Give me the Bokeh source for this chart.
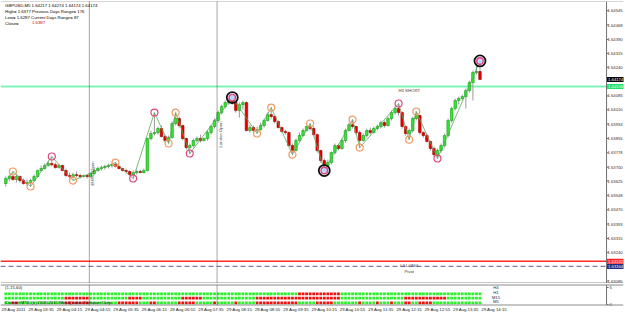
from bokeh.plotting import figure
from bokeh.layouts import column
from bokeh.models import Range1d, FixedTicker, Span, Label, PrintfTickFormatter
from bokeh.embed import file_html
from bokeh.resources import INLINE

# ---------------- data (GBPUSD M5, 29 Aug 2011) ----------------
opens = [1.63612, 1.63639, 1.63650, 1.63633, 1.63650, 1.63628, 1.63612, 1.63617, 1.63628, 1.63650,
         1.63682, 1.63693, 1.63709, 1.63720, 1.63714, 1.63698, 1.63709, 1.63682, 1.63655, 1.63650,
         1.63660, 1.63655, 1.63650, 1.63655, 1.63650, 1.63666, 1.63682, 1.63693, 1.63698, 1.63704,
         1.63709, 1.63714, 1.63704, 1.63693, 1.63682, 1.63677, 1.63660, 1.63671, 1.63677, 1.63671,
         1.63682, 1.63855, 1.63882, 1.63887, 1.63909, 1.63866, 1.63844, 1.63860, 1.63936, 1.63963,
         1.63925, 1.63855, 1.63806, 1.63817, 1.63844, 1.63855, 1.63844, 1.63855, 1.63887, 1.63920,
         1.63952, 1.63995, 1.64028, 1.64049, 1.64060, 1.64049, 1.64006, 1.64038, 1.64049, 1.63898,
         1.63914, 1.63898, 1.63903, 1.63925, 1.63952, 1.63984, 1.63974, 1.63947, 1.63914, 1.63893,
         1.63887, 1.63817, 1.63790, 1.63844, 1.63871, 1.63898, 1.63920, 1.63909, 1.63876, 1.63790,
         1.63736, 1.63709, 1.63725, 1.63779, 1.63817, 1.63801, 1.63844, 1.63898, 1.63930, 1.63920,
         1.63887, 1.63844, 1.63871, 1.63898, 1.63887, 1.63909, 1.63920, 1.63941, 1.63925, 1.63963,
         1.63995, 1.64017, 1.63995, 1.63920, 1.63882, 1.63898, 1.63963, 1.63979, 1.63887, 1.63871,
         1.63839, 1.63801, 1.63768, 1.63790, 1.63817, 1.63871, 1.63952, 1.64017, 1.64060, 1.64071,
         1.64082, 1.64114, 1.64157, 1.64211, 1.64217]
highs = [1.63650, 1.63660, 1.63677, 1.63660, 1.63655, 1.63639, 1.63633, 1.63639, 1.63660, 1.63687,
         1.63709, 1.63720, 1.63736, 1.63758, 1.63725, 1.63720, 1.63714, 1.63693, 1.63671, 1.63671,
         1.63677, 1.63666, 1.63660, 1.63660, 1.63671, 1.63693, 1.63704, 1.63709, 1.63714, 1.63720,
         1.63720, 1.63725, 1.63709, 1.63698, 1.63693, 1.63682, 1.63682, 1.63687, 1.63687, 1.63693,
         1.63860, 1.63898, 1.63995, 1.63920, 1.63925, 1.63876, 1.63871, 1.63947, 1.63995, 1.63974,
         1.63930, 1.63860, 1.63828, 1.63855, 1.63866, 1.63876, 1.63860, 1.63898, 1.63930, 1.63963,
         1.64006, 1.64038, 1.64060, 1.64071, 1.64076, 1.64060, 1.64049, 1.64060, 1.64055, 1.63930,
         1.63925, 1.63920, 1.63941, 1.63963, 1.63995, 1.64022, 1.63979, 1.63952, 1.63920, 1.63903,
         1.63893, 1.63828, 1.63855, 1.63887, 1.63909, 1.63925, 1.63936, 1.63920, 1.63882, 1.63795,
         1.63747, 1.63741, 1.63785, 1.63828, 1.63828, 1.63855, 1.63909, 1.63941, 1.63957, 1.63925,
         1.63898, 1.63882, 1.63909, 1.63914, 1.63920, 1.63930, 1.63952, 1.63952, 1.63974, 1.64006,
         1.64028, 1.64044, 1.64001, 1.63925, 1.63909, 1.63974, 1.64001, 1.63984, 1.63893, 1.63882,
         1.63844, 1.63812, 1.63801, 1.63828, 1.63882, 1.63963, 1.64028, 1.64071, 1.64082, 1.64092,
         1.64125, 1.64168, 1.64222, 1.64265, 1.64274]
lows = [1.63596, 1.63623, 1.63628, 1.63617, 1.63617, 1.63606, 1.63601, 1.63596, 1.63623, 1.63644,
        1.63677, 1.63687, 1.63704, 1.63704, 1.63693, 1.63693, 1.63677, 1.63650, 1.63639, 1.63628,
        1.63644, 1.63639, 1.63644, 1.63639, 1.63644, 1.63660, 1.63677, 1.63682, 1.63687, 1.63693,
        1.63698, 1.63698, 1.63687, 1.63677, 1.63666, 1.63655, 1.63639, 1.63660, 1.63671, 1.63666,
        1.63677, 1.63844, 1.63871, 1.63876, 1.63860, 1.63833, 1.63828, 1.63855, 1.63925, 1.63914,
        1.63844, 1.63795, 1.63774, 1.63806, 1.63833, 1.63833, 1.63839, 1.63844, 1.63876, 1.63909,
        1.63941, 1.63984, 1.64017, 1.64038, 1.64038, 1.63995, 1.63968, 1.64011, 1.63893, 1.63887,
        1.63893, 1.63882, 1.63898, 1.63914, 1.63947, 1.63963, 1.63936, 1.63909, 1.63887, 1.63876,
        1.63812, 1.63768, 1.63785, 1.63839, 1.63866, 1.63893, 1.63898, 1.63866, 1.63779, 1.63725,
        1.63682, 1.63698, 1.63714, 1.63768, 1.63790, 1.63795, 1.63833, 1.63893, 1.63909, 1.63876,
        1.63806, 1.63839, 1.63860, 1.63876, 1.63882, 1.63898, 1.63909, 1.63914, 1.63920, 1.63952,
        1.63984, 1.63979, 1.63909, 1.63871, 1.63849, 1.63887, 1.63952, 1.63876, 1.63860, 1.63833,
        1.63790, 1.63758, 1.63747, 1.63779, 1.63806, 1.63860, 1.63941, 1.64006, 1.64038, 1.64060,
        1.64017, 1.64103, 1.64060, 1.64200, 1.64174]
closes = [1.63639, 1.63650, 1.63633, 1.63650, 1.63628, 1.63612, 1.63617, 1.63628, 1.63650, 1.63682,
          1.63693, 1.63709, 1.63720, 1.63714, 1.63698, 1.63709, 1.63682, 1.63655, 1.63650, 1.63660,
          1.63655, 1.63650, 1.63655, 1.63650, 1.63666, 1.63682, 1.63693, 1.63698, 1.63704, 1.63709,
          1.63714, 1.63704, 1.63693, 1.63682, 1.63677, 1.63660, 1.63671, 1.63677, 1.63671, 1.63682,
          1.63855, 1.63882, 1.63887, 1.63909, 1.63866, 1.63844, 1.63860, 1.63936, 1.63963, 1.63925,
          1.63855, 1.63806, 1.63817, 1.63844, 1.63855, 1.63844, 1.63855, 1.63887, 1.63920, 1.63952,
          1.63995, 1.64028, 1.64049, 1.64060, 1.64049, 1.64006, 1.64038, 1.64049, 1.63898, 1.63914,
          1.63898, 1.63903, 1.63925, 1.63952, 1.63984, 1.63974, 1.63947, 1.63914, 1.63893, 1.63887,
          1.63817, 1.63790, 1.63844, 1.63871, 1.63898, 1.63920, 1.63909, 1.63876, 1.63790, 1.63736,
          1.63709, 1.63725, 1.63779, 1.63817, 1.63801, 1.63844, 1.63898, 1.63930, 1.63920, 1.63887,
          1.63844, 1.63871, 1.63898, 1.63887, 1.63909, 1.63920, 1.63941, 1.63925, 1.63963, 1.63995,
          1.64017, 1.63995, 1.63920, 1.63882, 1.63898, 1.63963, 1.63979, 1.63887, 1.63871, 1.63839,
          1.63801, 1.63768, 1.63790, 1.63817, 1.63871, 1.63952, 1.64017, 1.64060, 1.64071, 1.64082,
          1.64114, 1.64157, 1.64211, 1.64217, 1.64174]

# zigzag swing points: bar index, price, marker kind
zz_bars = [0, 2, 7, 13, 19, 31, 36, 42, 46, 48, 52, 64, 71, 75, 81, 86, 90, 98, 100, 111, 114, 116, 122, 134]
zz_prices = [1.63617, 1.63677, 1.63596, 1.63758, 1.63628, 1.63725, 1.63639, 1.63995, 1.63828, 1.63995,
             1.63774, 1.64076, 1.63882, 1.64022, 1.63768, 1.63936, 1.63682, 1.63957, 1.63806, 1.64044,
             1.63849, 1.64001, 1.63747, 1.64274]
zz_kind = ["none", "minor", "minor", "major", "minor", "minor", "major", "major", "minor", "minor",
           "major", "big", "minor", "minor", "minor", "minor", "big", "minor", "minor", "major",
           "minor", "minor", "major", "big"]

price_ticks = [1.64545, 1.64468, 1.64390, 1.64315, 1.64240, 1.64085, 1.64010, 1.63933, 1.63855,
               1.63778, 1.63700, 1.63625, 1.63548, 1.63470, 1.63393, 1.63315, 1.63240, 1.63085]
time_tick_bars = [-1.8, 6, 14, 22, 30, 38, 46, 54, 62, 70, 78, 86, 94, 102, 110, 118, 126, 134]
time_tick_labels = ["29 Aug 2011", "29 Aug 03:35", "29 Aug 04:15", "29 Aug 04:55", "29 Aug 05:35",
                    "29 Aug 06:15", "29 Aug 06:55", "29 Aug 07:35", "29 Aug 08:15", "29 Aug 08:55",
                    "29 Aug 09:35", "29 Aug 10:15", "29 Aug 10:55", "29 Aug 11:35", "29 Aug 12:15",
                    "29 Aug 12:55", "29 Aug 13:35", "29 Aug 14:15"]

h3_price = 1.64136
l3_price = 1.63192
pivot_price = 1.63164
last_price = 1.64174

session_bars = [23.6, 59.7]
session_names = ["EURO Open", "London Open"]

info_lines = ["GBPUSD,M5  1.64217 1.64274 1.64174 1.64174",
              "High= 1.6377     Previous Days Range= 176",
              "Low= 1.6287      Current Days Range= 87",
              "Close= "]
close_value = "1.6387"

# strength panel: one row per timeframe, G = up, R = down
row_states = [
    "GGGGGGGGGG" "GGGGGGGGGG" "GGGGGGGGGG" "GGGGGGGGGG" "GGGGGGGGGG" "GGGGGGGGGG" "GGGGGGGGGG"
    "GGGGGGGGGG" "GGGRRRRRRR" "RRRRRGGGGG" "GGGGGGGGGG" "GGGGGGGGGG" "GGGGGGGGGG" "GGGGG",
    "GGGGGGGGGG" "GGGGGGGRRR" "RRRRGGGGGG" "GGGGGRRRRG" "GGGGGGGGGG" "RRRRRRGGGG" "GGGGGGGGGG"
    "GRRRRRRRRR" "RRRRRRRRRR" "RRRRRGGGGG" "GGGGGGGGGG" "GGGRRRRRRR" "RRRRRGGGGG" "GGGGG",
    "GGRRGGGGGG" "GGGGGGGRRR" "RRRRGGGGGG" "GGRRRRRRGG" "GRRGGGGGGR" "RRRRGGGGGR" "GGGGGRGGGG"
    "GRRRRRRRRR" "RRRGGGGGRR" "RRRGGGGGGG" "RGGGGRGGGR" "GGGRRGGRRR" "RGGGGGGGGG" "GGGGG",
]
panel_labels = ["H4", "H1", "M15", "M5"]

# ---------------- styling / layout ----------------
FONT = "Liberation Sans"
FS = "4.3px"
AX_FS = "4.2px"
W = 625
PX_PER_BAR = 3.55
X0 = -1.5
X1 = X0 + W / PX_PER_BAR          # frame spans the full window width
AXIS_X = X0 + 608 / PX_PER_BAR    # price-scale line of the chart window
Y0, Y1 = 1.63072, 1.64595
FH = 282
AXC = "#707070"

def py(pix):
    """main-panel pixel row (from frame top) -> price"""
    return Y1 - pix * (Y1 - Y0) / FH

def lab(fig, x, y, text, color="#202020", align="left", baseline="top", angle=0, **kw):
    fig.add_layout(Label(x=x, y=y, text=text, text_font=FONT, text_font_size=FS,
                         text_color=color, text_align=align, text_baseline=baseline,
                         angle=angle, **kw))

p = figure(width=W, frame_height=FH, x_range=Range1d(X0, X1), y_range=Range1d(Y0, Y1),
           output_backend="svg", toolbar_location=None, x_axis_location=None,
           y_axis_location="right", min_border_left=0, min_border_top=1, min_border_bottom=0,
           min_border_right=0)
p.background_fill_color = "white"
p.border_fill_color = "white"
p.outline_line_color = None
p.grid.visible = False
ax = p.yaxis[0]
ax.ticker = FixedTicker(ticks=price_ticks)
ax.formatter = PrintfTickFormatter(format="%.5f")
ax.major_label_text_font = FONT
ax.major_label_text_font_size = AX_FS
ax.major_label_text_color = "#303030"
ax.major_label_standoff = -16
ax.major_tick_out = 0
ax.major_tick_in = 0
ax.minor_tick_line_color = None
ax.major_tick_line_color = None
ax.axis_line_color = None

# chart-window borders and price-scale line
p.add_layout(Span(location=AXIS_X, dimension="height", line_color=AXC, line_width=1))
p.add_layout(Span(location=Y0, dimension="width", line_color="#8c8c8c", line_width=2))
p.add_layout(Span(location=Y1, dimension="width", line_color="#b0b0b0", line_width=1))
p.segment([AXIS_X] * len(price_ticks), price_ticks, [AXIS_X + 0.6] * len(price_ticks), price_ticks,
          line_color=AXC, line_width=1)

# session lines
for sb in session_bars:
    p.add_layout(Span(location=sb, dimension="height", line_color="#505050",
                      line_dash="1 1", line_width=1))

# horizontal levels
p.segment([X0], [h3_price], [AXIS_X], [h3_price], line_color="#7DF3B6", line_width=2)
p.segment([X0], [l3_price], [AXIS_X], [l3_price], line_color="#FF2A2A", line_width=1.6)
p.segment([X0], [pivot_price], [AXIS_X], [pivot_price], line_color="#7A7AB4",
          line_dash="5 3", line_width=1.2)

# candles
bars = list(range(len(opens)))
up = [i for i in bars if closes[i] >= opens[i]]
dn = [i for i in bars if closes[i] < opens[i]]
p.segment(bars, highs, bars, lows, line_color="#9a9a9a", line_width=1)
p.vbar(x=up, width=0.72, top=[closes[i] for i in up], bottom=[opens[i] for i in up],
       fill_color="#33E833", line_color="#169a16", line_width=0.6)
p.vbar(x=dn, width=0.72, top=[opens[i] for i in dn], bottom=[closes[i] for i in dn],
       fill_color="#E80000", line_color="#A00000", line_width=0.6)

# zigzag
p.line(zz_bars, zz_prices, line_color="#5BAA5B", line_width=0.8)
for kind, col in (("minor", "#F29A62"), ("major", "#E2457E")):
    xs = [b for b, k in zip(zz_bars, zz_kind) if k == kind]
    ys = [v for v, k in zip(zz_prices, zz_kind) if k == kind]
    p.scatter(xs, ys, marker="circle", size=7, fill_color=None, line_color=col, line_width=1.2)
bx = [b for b, k in zip(zz_bars, zz_kind) if k == "big"]
byv = [v for v, k in zip(zz_prices, zz_kind) if k == "big"]
p.scatter(bx, byv, marker="circle", size=11, fill_color=None, line_color="#111111", line_width=1.8)
p.scatter(bx, byv, marker="circle", size=6.5, fill_color="#BFD3FF", line_color="#E0457E",
          line_width=1.4)

# texts
for k, line in enumerate(info_lines):
    lab(p, X0 + 1.3, py(1 + 6 * k), line, color="#000000")
lab(p, X0 + 1.3 + 7.6, py(19), close_value, color="#D00000")

lab(p, session_bars[0] + 0.3, py(172), session_names[0], color="#404040",
    align="center", baseline="top", angle=1.5708)
lab(p, session_bars[1] + 0.3, py(133), session_names[1], color="#404040",
    align="center", baseline="top", angle=1.5708)

lab(p, 114, py(86.5), "H3 SHORT", color="#404040", align="center")
lab(p, 114, py(261), "L3 LONG", color="#404040", align="center")
lab(p, 114, py(267), "Pivot", color="#404040", align="center")

# price boxes on the price scale
for price, bg, fg in ((last_price, "#000000", "#ffffff"), (h3_price, "#22E06A", "#E8FFF0"),
                      (l3_price, "#FF2020", "#ffffff"), (pivot_price, "#1C2C7C", "#ffffff")):
    p.add_layout(Label(x=AXIS_X, y=price, x_offset=0.5, text=f"{price:.5f}", text_font=FONT,
                       text_font_size=AX_FS, text_color=fg, text_align="left",
                       text_baseline="middle", background_fill_color=bg, padding=1))

# ---------------- lower indicator panel ----------------
LY0, LY1 = -0.3, 5.9
q = figure(width=W, frame_height=21, x_range=p.x_range, y_range=Range1d(LY0, LY1),
           output_backend="svg", toolbar_location=None, y_axis_location="right",
           min_border_left=0, min_border_top=1, min_border_bottom=0, min_border_right=0)
q.outline_line_color = None
q.grid.visible = False
qy = q.yaxis[0]
qy.ticker = FixedTicker(ticks=[0, 5])
qy.major_label_text_font = FONT
qy.major_label_text_font_size = AX_FS
qy.major_label_text_color = "#303030"
qy.major_label_standoff = -14
qy.major_tick_out = 0
qy.major_tick_in = 0
qy.major_tick_line_color = None
qy.minor_tick_line_color = None
qy.axis_line_color = None
qx = q.xaxis[0]
qx.ticker = FixedTicker(ticks=[b + 4 for b in time_tick_bars])
qx.major_label_overrides = {b + 4: t for b, t in zip(time_tick_bars, time_tick_labels)}
qx.major_label_text_font = FONT
qx.major_label_text_font_size = FS
qx.major_label_text_color = "#202020"
qx.major_label_standoff = 1
qx.major_tick_out = 0
qx.major_tick_in = 0
qx.major_tick_line_color = None
qx.minor_tick_line_color = None
qx.axis_line_color = None

q.add_layout(Span(location=AXIS_X, dimension="height", line_color=AXC, line_width=1))
q.add_layout(Span(location=LY1, dimension="width", line_color="#8c8c8c", line_width=2))
q.add_layout(Span(location=LY0, dimension="width", line_color="#8c8c8c", line_width=2))
q.segment([AXIS_X, AXIS_X], [0, 5], [AXIS_X + 0.6, AXIS_X + 0.6], [0, 5], line_color=AXC)

for sb in session_bars:
    q.add_layout(Span(location=sb, dimension="height", line_color="#505050",
                      line_dash="1 1", line_width=1))

row_levels = [3.15, 1.85, 0.5]
for lvl, states in zip(row_levels, row_states):
    gx = [i for i, s in enumerate(states) if s == "G"]
    rx = [i for i, s in enumerate(states) if s == "R"]
    q.scatter(gx, [lvl] * len(gx), marker="square", size=2.8, fill_color="#2BF02B", line_color=None)
    q.scatter(rx, [lvl] * len(rx), marker="square", size=2.8, fill_color="#F01010", line_color=None)

lab(q, X0 + 1.3, 5.75, "(1,15,60)", color="#202020")
lab(q, X0 + 1.3, 0.5, "Current MT4, (c) 2005-2011 MetaQuotes Software Corp.",
    color="#202020", baseline="middle")
for k, t in enumerate(panel_labels):
    lab(q, 138.5, 4.9 - 1.35 * k, t, color="#303030", align="center", baseline="middle")

layout = column(p, q, spacing=0)
open("out.html", "w").write(file_html(layout, INLINE))
